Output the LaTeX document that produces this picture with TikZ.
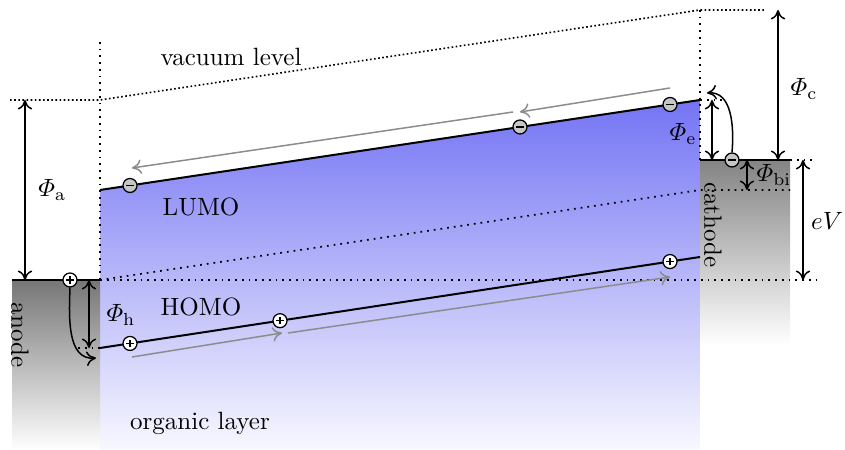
\documentclass[tikz,border=0pt]{standalone}
\usepackage{amsmath}
\usepackage{tikz}
\usetikzlibrary{positioning, arrows.meta}
\definecolor{BandBlue}{RGB}{116,116,244}
\definecolor{BandPale}{RGB}{248,248,255}
\definecolor{MetalGray}{RGB}{118,118,118}
\definecolor{DriftGray}{RGB}{140,140,140}

\begin{document}
\begin{tikzpicture}[
    x=0.4pt, y=0.4pt,
    >={Computer Modern Rightarrow[length=3.8pt, width=5.8pt]},
    every node/.style={font=\normalsize, inner sep=1pt},
    level/.style={line width=0.8pt},
    gap/.style={<->, line width=0.6pt},
    hop/.style={->, line width=0.6pt},
    drift/.style={->, line width=0.6pt, color=DriftGray},
    guide/.style={dotted, line width=0.7pt},
    vacuum/.style={densely dotted, line width=0.65pt},
    carrier/.style={circle, draw, line width=0.5pt, inner sep=0pt, minimum size=5.6pt},
    electron/.style={carrier, fill=gray!45, path picture={
        \draw[line width=0.5pt] ([xshift=-1.5pt]path picture bounding box.center) -- ([xshift=1.5pt]path picture bounding box.center);}},
    hole/.style={carrier, fill=white, path picture={
        \draw[line width=0.5pt] ([xshift=-1.5pt]path picture bounding box.center) -- ([xshift=1.5pt]path picture bounding box.center);
        \draw[line width=0.5pt] ([yshift=-1.5pt]path picture bounding box.center) -- ([yshift=1.5pt]path picture bounding box.center);}}
  ]
    \useasboundingbox (0,0) rectangle (845,450);

    % energy levels
    \coordinate (vacL) at (10,350);
    \coordinate (vacA) at (100,350);
    \coordinate (vacC) at (700,440);
    \coordinate (vacR) at (765,440);
    \coordinate (lumoA) at (100,260);
    \coordinate (lumoC) at (700,350);
    \coordinate (homoA) at (100,102);
    \coordinate (homoC) at (700,193);
    \coordinate (fermiA) at (100,170);
    \coordinate (fermiC) at (700,290);
    \coordinate (fermiR) at (790,290);
    \coordinate (biC) at (700,260);
    \coordinate (biR) at (790,260);

    % layers
    \shade[top color=BandBlue, bottom color=BandPale] (100,0) -- (lumoA) -- (lumoC) -- (700,0) -- cycle;
    \shade[top color=MetalGray, middle color=gray!40, bottom color=white] (12,0) rectangle (fermiA);
    \shade[top color=MetalGray!90, middle color=gray!35, bottom color=white] (700,105) rectangle (fermiR);

    % dotted guides
    \draw[vacuum] (vacL) -- (vacA) -- (vacC) -- (vacR);
    \draw[guide] (100,408) -- (fermiA);
    \draw[guide] (vacC) -- (fermiC);
    \draw[guide] (fermiA) -- (822,170);
    \draw[guide] (fermiA) -- (biC) -- (biR);
    \draw[guide] (fermiR) -- (816,290);
    \draw[guide] (78,102) -- (homoA);
    \draw[guide] (lumoC) -- (722,350);

    % electrodes and bands
    \draw[level] (12,170) -- (fermiA);
    \draw[level] (fermiC) -- (fermiR);
    \draw[level] (lumoA) -- (lumoC)
      node[electron, pos=0.05] (e1) {}
      node[electron, pos=0.70] (e2) {}
      node[electron, pos=0.95] (e3) {};
    \draw[level] (homoA) -- (homoC)
      node[hole, pos=0.05] (h1) {}
      node[hole, pos=0.30] (h2) {}
      node[hole, pos=0.95] (h3) {};
    \node[electron] (e0) at (732,290) {};
    \node[hole] (h0) at (70,170) {};

    % drift of carriers
    \coordinate (eDa) at (670,362);
    \coordinate (eDb) at (520,338);
    \coordinate (eDc) at (513,338);
    \coordinate (eDd) at (132,282);
    \draw[drift] (eDa) -- (eDb);
    \draw[drift] (eDc) -- (eDd);
    \coordinate (hDa) at (132,93);
    \coordinate (hDb) at (282,117);
    \coordinate (hDc) at (288,117);
    \coordinate (hDd) at (670,173);
    \draw[drift] (hDa) -- (hDb);
    \draw[drift] (hDc) -- (hDd);

    % injection
    \coordinate (eIn) at (707,357);
    \coordinate (hIn) at (96,92);
    \draw[hop] (e0.north) to[out=85, in=5] (eIn);
    \draw[hop] (h0.south) to[out=-92, in=185] (hIn);

    % barriers
    \draw[gap] (25,350) -- (25,170) node[midway, right=4pt] (phia) {$\varPhi_\mathrm{a}$};
    \draw[gap] (89,170) -- (89,102);
    \node (phih) at (121,135) {$\varPhi_\mathrm{h}$};
    \draw[gap] (712,350) -- (712,290);
    \node (phie) at (683,316) {$\varPhi_\mathrm{e}$};
    \draw[gap] (778,440) -- (778,290);
    \node (phic) at (804,361) {$\varPhi_\mathrm{c}$};
    \draw[gap] (747,290) -- (747,260);
    \node (phibi) at (774,275) {$\varPhi_\mathrm{bi}$};
    \draw[gap] (803,290) -- (803,170);
    \node (ev) at (827,229) {$eV$};

    % labels
    \node (vac) at (231,393) {vacuum level};
    \node (lumo) at (201,243) {LUMO};
    \node (homo) at (201,143) {HOMO};
    \node (org) at (200,27) {organic layer};
    \node[rotate=-90] (anode) at (20,115) {anode};
    \node[rotate=-90] (cathode) at (713,225) {cathode};
  \end{tikzpicture}
\end{document}
